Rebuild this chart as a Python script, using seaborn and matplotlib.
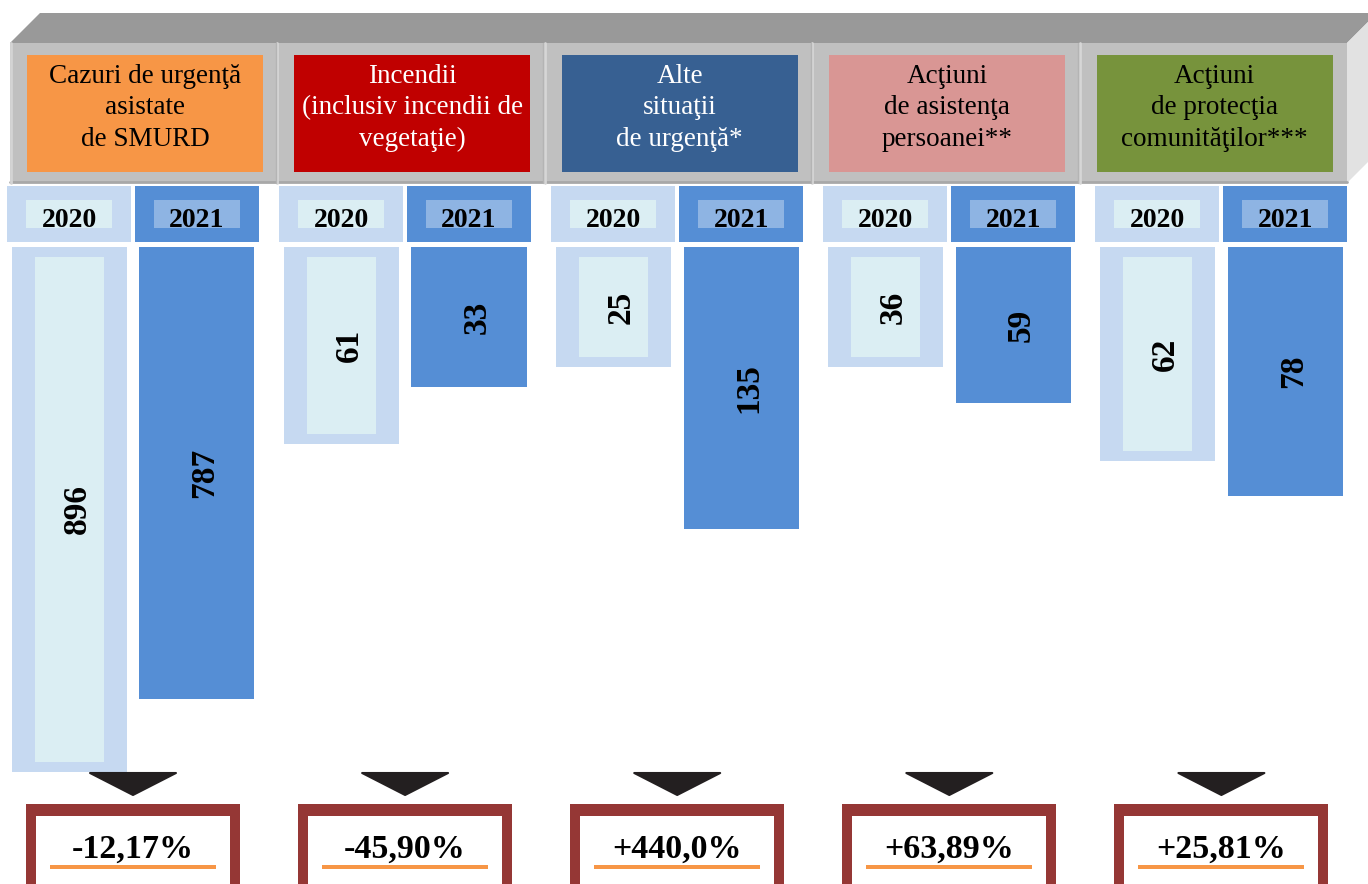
import matplotlib
matplotlib.use("Agg")
import pandas as pd
import matplotlib.pyplot as plt
import matplotlib.patheffects as pe
from matplotlib.font_manager import findfont, FontProperties
from matplotlib.patches import Rectangle, Polygon
import seaborn as sns

sns.set_style("white")
plt.rcParams["font.family"] = ["Liberation Serif", "DejaVu Serif"]

# ----------------------------------------------------------------
# DATA (read off the graphic)
# ----------------------------------------------------------------
categories = [
    "Cazuri de urgenţă\nasistate\nde SMURD",
    "Incendii\n(inclusiv incendii de\nvegetaţie)",
    "Alte\nsituaţii\nde urgenţă*",
    "Acţiuni\nde asistenţa\npersoanei**",
    "Acţiuni\nde protecţia\ncomunităţilor***",
]
years = ["2020", "2021"]
values_2020 = [896, 61, 25, 36, 62]
values_2021 = [787, 33, 135, 59, 78]
# the source graphic is not drawn to scale: bar lengths as drawn there
drawn_2020 = [525, 197, 120, 120, 214]
drawn_2021 = [452, 140, 282, 156, 249]
changes = ["-12,17%", "-45,90%", "+440,0%", "+63,89%", "+25,81%"]

header_colors = ["#F79646", "#C00000", "#376092", "#D99694", "#77933C"]
header_text_colors = ["black", "white", "white", "black", "black"]
bar_colors = {"2020": "#C6D9F1", "2021": "#558ED5"}
label_colors = {"2020": "#DBEEF3", "2021": "#8EB4E3"}

# bold serif: use the real face if it is there, otherwise thicken the regular one
bold_file = findfont(FontProperties(family="Liberation Serif", weight="bold"))
if "bold" in bold_file.lower():
    BOLD = dict(fontweight="bold", color="black")
else:
    BOLD = dict(fontweight="bold", color="black",
                path_effects=[pe.withStroke(linewidth=1.3, foreground="black")])

# ----------------------------------------------------------------
# FIGURE / AXES
# ----------------------------------------------------------------
W, H = 1368, 884
BAR_TOP = 247
center0, pitch = 133.0, 272.1

fig = plt.figure(figsize=(W / 100, H / 100), dpi=100)
fig.patch.set_facecolor("white")

left_px = center0 - pitch / 2
axb = fig.add_axes([left_px / W, 0, 5 * pitch / W, (H - BAR_TOP) / H], zorder=1)
ax = fig.add_axes([0, 0, 1, 1], zorder=2)
ax.set_xlim(0, W)
ax.set_ylim(H, 0)
ax.axis("off")

# ----------------------------------------------------------------
# HANGING BARS
# ----------------------------------------------------------------
df = pd.DataFrame({
    "categorie": categories * 2,
    "an": [years[0]] * len(categories) + [years[1]] * len(categories),
    "lungime": drawn_2020 + drawn_2021,
})
sns.barplot(data=df, x="categorie", y="lungime", hue="an", hue_order=years,
            palette=bar_colors, width=0.94, gap=0.1, saturation=1,
            errorbar=None, legend=False, linewidth=0, ax=axb)
axb.set_xlim(-0.5, 4.5)
axb.set_ylim(H - BAR_TOP, 0)
axb.axis("off")


def to_px(x, y):
    return ax.transData.inverted().transform(axb.transData.transform((x, y)))


# ----------------------------------------------------------------
# 3D HEADER
# ----------------------------------------------------------------
hx0, hx1, hy0, hy1 = 10, 1347, 43, 183
ax.add_patch(Polygon([(hx0, hy0), (hx0 + 30, hy0 - 30), (hx1 + 30, hy0 - 30), (hx1, hy0)],
                     closed=True, facecolor="#999999", edgecolor="none"))
ax.add_patch(Polygon([(hx1, hy0), (hx1 + 30, hy0 - 30), (hx1 + 30, hy1 - 30), (hx1, hy1)],
                     closed=True, facecolor="#E2E2E2", edgecolor="none"))
ax.add_patch(Rectangle((hx0, hy0), hx1 - hx0, hy1 - hy0, facecolor="#C0C0C0", edgecolor="none"))
ax.plot([hx0, hx1], [hy1 - 1, hy1 - 1], color="#A8A8A8", lw=2)
ax.plot([hx0 + 1, hx0 + 1], [hy0, hy1], color="#D4D4D4", lw=2)

cell_w = (hx1 - hx0) / len(categories)
for i, (cat, col, tcol) in enumerate(zip(categories, header_colors, header_text_colors)):
    cx0 = hx0 + i * cell_w
    if i > 0:
        ax.plot([cx0, cx0], [hy0, hy1], color="#D6D6D6", lw=2)
        ax.plot([cx0 - 1.5, cx0 - 1.5], [hy0, hy1], color="#B4B4B4", lw=1)
    ax.add_patch(Rectangle((cx0 + 17, 55), 236, 117, facecolor=col, edgecolor="none"))
    ax.text(cx0 + 17 + 118, 108, cat, ha="center", va="center", fontsize=19.5,
            color=tcol, linespacing=1.32)

# ----------------------------------------------------------------
# YEAR TAGS, INNER PANELS, VALUE LABELS
# ----------------------------------------------------------------
bars = sorted(axb.patches, key=lambda p: p.get_x())
group_centers = []
for i in range(len(categories)):
    vals = [values_2020[i], values_2021[i]]
    xs = []
    for j, year in enumerate(years):
        p = bars[2 * i + j]
        x0, y0 = to_px(p.get_x(), 0)
        x1, y1 = to_px(p.get_x() + p.get_width(), p.get_height())
        bc = (x0 + x1) / 2
        xs.append(bc)

        # year tag above the bar
        ax.add_patch(Rectangle((bc - 62, 186), 124, 56, facecolor=bar_colors[year], edgecolor="none"))
        ax.add_patch(Rectangle((bc - 43, 200), 86, 28, facecolor=label_colors[year], edgecolor="none"))
        ax.text(bc, 227, year, ha="center", va="baseline", fontsize=20, **BOLD)

        if year == "2020":
            ax.add_patch(Rectangle((x0 + 23, y0 + 10), (x1 - x0) - 46, (y1 - y0) - 20,
                                   facecolor=label_colors[year], edgecolor="none"))
        ax.text(bc + 8, (y0 + y1) / 2, str(vals[j]), rotation=90, ha="center", va="center",
                fontsize=24, **BOLD)
    group_centers.append(sum(xs) / 2)

# ----------------------------------------------------------------
# ARROWS + CHANGE BOXES
# ----------------------------------------------------------------
for gc, txt in zip(group_centers, changes):
    ax.add_patch(Polygon([(gc - 43, 773), (gc + 43, 773), (gc, 795)], closed=True,
                         facecolor="#231F20", edgecolor="#231F20", lw=1.5, joinstyle="round"))
    ax.add_patch(Rectangle((gc - 107, 804), 214, 100, facecolor="#953735", edgecolor="none"))
    ax.add_patch(Rectangle((gc - 97, 816), 194, 100, facecolor="white", edgecolor="none"))
    ax.add_patch(Rectangle((gc - 83, 865), 166, 4, facecolor="#F79646", edgecolor="none"))
    ax.text(gc, 858, txt, ha="center", va="baseline", fontsize=24.5, **BOLD)

fig.savefig("out.png", dpi=100)
